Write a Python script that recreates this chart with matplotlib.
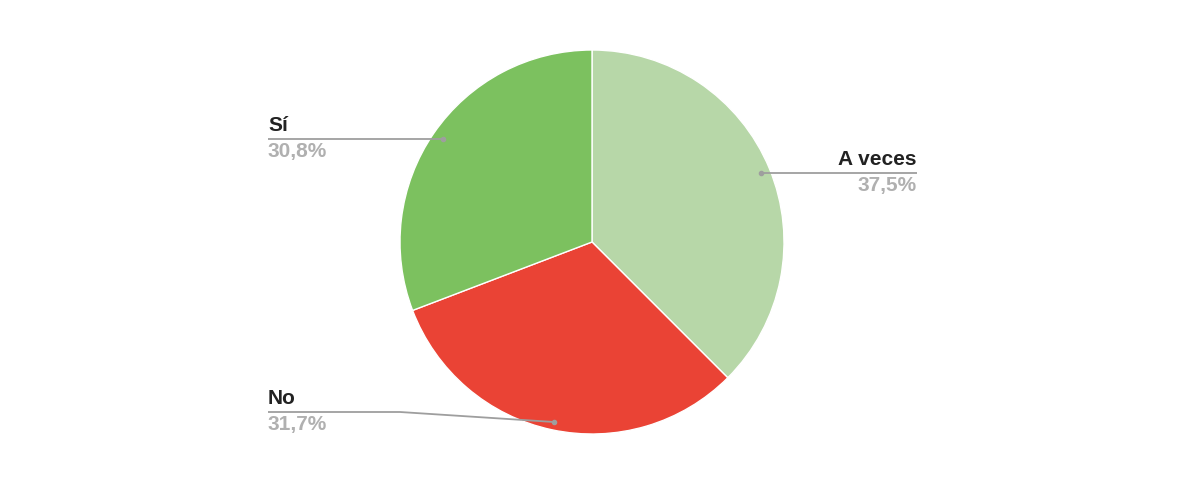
import matplotlib.pyplot as plt

# datos
categorias = ["A veces", "No", "Sí"]
valores = [37.5, 31.7, 30.8]
colores = ["#b7d7a8", "#ea4335", "#7cc15f"]

plt.rcParams['font.family'] = ['Liberation Sans', 'DejaVu Sans']

fig = plt.figure(figsize=(12, 5), dpi=100)
ax = fig.add_axes([0, 0, 1, 1])
ax.set_aspect('equal')
ax.axis('off')

H = 500
ax.pie(valores, colors=colores, startangle=90, counterclock=False,
       center=(592, H - 242), radius=192,
       wedgeprops=dict(edgecolor='white', linewidth=1))
ax.set_xlim(0, 1200)
ax.set_ylim(0, 500)

# posiciones de las etiquetas (px desde arriba)
etiquetas = {
    "Sí": dict(pt=(443, 139), line=[(268, 139), (443, 139)], x=268, y=139, ha='left'),
    "A veces": dict(pt=(761, 173), line=[(761, 173), (917, 173)], x=917, y=173, ha='right'),
    "No": dict(pt=(554, 422), line=[(268, 412), (400, 412), (554, 422)], x=268, y=412, ha='left'),
}

for cat, val in zip(categorias, valores):
    e = etiquetas[cat]
    xs = [p[0] for p in e['line']]
    ys = [H - p[1] for p in e['line']]
    ax.plot(xs, ys, color='#9e9e9e', lw=1.3, solid_capstyle='butt')
    ax.plot(e['pt'][0], H - e['pt'][1], 'o', color='#9e9e9e', ms=3)
    ax.text(e['x'], H - e['y'] + 4, cat, ha=e['ha'], va='bottom',
            fontsize=15, fontweight='bold', color='#222222')
    ax.text(e['x'], H - e['y'] - 3, f"{val:.1f}%".replace('.', ','), ha=e['ha'], va='top',
            fontsize=15, fontweight='bold', color='#b0b0b0')

fig.savefig("out.png", dpi=100, facecolor='white')
